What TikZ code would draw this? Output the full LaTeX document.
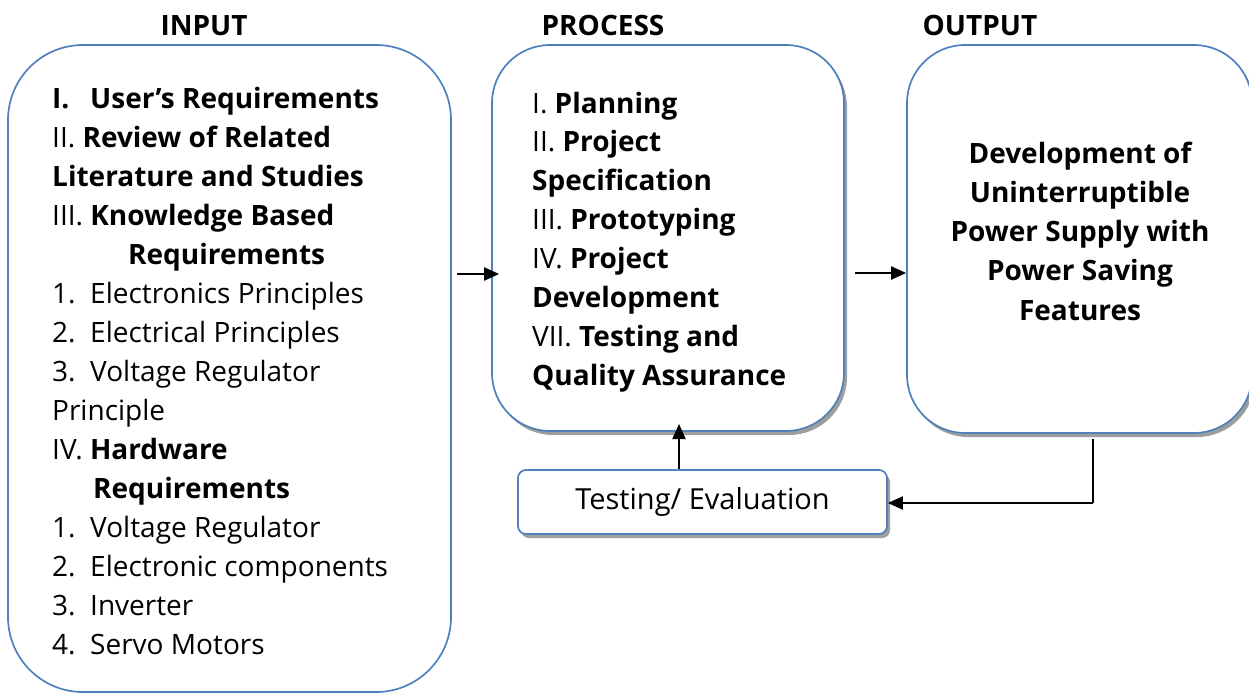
\documentclass[tikz,border=0pt]{standalone}
\usepackage{fontspec}
\setmainfont{Open Sans}
\usetikzlibrary{arrows.meta,shadows}
\definecolor{boxblue}{HTML}{4F81BD}
\tikzset{
 box/.style={draw=boxblue, line width=1.7pt, fill=white, inner sep=0pt},
 shad/.style={drop shadow={shadow xshift=3pt, shadow yshift=-4pt, fill=black!38, opacity=1}},
 arr/.style={line width=2pt, -{Triangle[length=15pt,width=13pt]}},
 body/.style={font=\fontsize{28}{39}\selectfont, inner sep=0pt, anchor=base west},
 ctr/.style={font=\bfseries\fontsize{28}{39}\selectfont, inner sep=0pt, anchor=base},
 head/.style={font=\bfseries\fontsize{28}{34}\selectfont, inner sep=0pt, anchor=base},
}
\begin{document}
\begin{tikzpicture}[x=1pt,y=-1pt]
\useasboundingbox (0,0) rectangle (1249,694);
\fill[white] (0,0) rectangle (1249,694);

% headings
\node[head] (hin) at (204,35) {INPUT};
\node[head] (hpr) at (603,35) {PROCESS};
\node[head] (hout) at (980,35) {OUTPUT};

% boxes
\node[box, rounded corners=75pt, minimum width=443pt, minimum height=647pt] (input) at (229.5,368.5) {};
\node[box, shad, rounded corners=58pt, minimum width=352pt, minimum height=386pt] (process) at (668,238) {};
\node[box, shad, rounded corners=58pt, minimum width=345pt, minimum height=388pt] (output) at (1079.5,239) {};
\node[box, shad, rounded corners=8pt, minimum width=369pt, minimum height=64pt,
      font=\fontsize{29}{34}\selectfont] (test) at (702.5,502) {Testing/ Evaluation};

% input text
\foreach \t [count=\i] in {
 {\bfseries\makebox[38pt][l]{I.}User’s Requirements},
 {II. \textbf{Review of Related}},
 {\textbf{Literature and Studies}},
 {III. \textbf{Knowledge Based}},
 {\hspace{76pt}\textbf{Requirements}},
 {\makebox[38pt][l]{1.}Electronics Principles},
 {\makebox[38pt][l]{2.}Electrical Principles},
 {\makebox[38pt][l]{3.}Voltage Regulator},
 {Principle},
 {IV. \textbf{Hardware}},
 {\hspace{41pt}\textbf{Requirements}},
 {\makebox[38pt][l]{1.}Voltage Regulator},
 {\makebox[38pt][l]{2.}Electronic components},
 {\makebox[38pt][l]{3.}Inverter},
 {\makebox[38pt][l]{4.}Servo Motors}}
 \node[body] (in\i) at (52,{108+39*(\i-1)}) {\t};

% process text
\foreach \t [count=\i] in {
 {I. \textbf{Planning}},
 {II. \textbf{Project}},
 {\textbf{Specification}},
 {III. \textbf{Prototyping}},
 {IV. \textbf{Project}},
 {\textbf{Development}},
 {VII. \textbf{Testing and}},
 {\textbf{Quality Assurance}}}
 \node[body] (pr\i) at (532,{113+38.9*(\i-1)}) {\t};

% output text
\foreach \t [count=\i] in {
 {Development of},
 {Uninterruptible},
 {Power Supply with},
 {Power Saving},
 {Features}}
 \node[ctr] (out\i) at (1080,{163+39.25*(\i-1)}) {\t};

% connectors
\coordinate (a1) at (457,274);
\draw[arr] (a1) -- ([xshift=8pt]a1 -| process.west);
\coordinate (a2) at (855,273);
\draw[arr] (a2) -- (a2 -| output.west);
\coordinate (a3) at (679,424);
\draw[arr] (a3 |- test.north) -- (a3);
\coordinate (a4) at (1093,439);
\coordinate (a5) at (1093,503);
\draw[line width=2pt] (a4) -- (a5);
\draw[arr] (a5) -- (a5 -| test.east);
\end{tikzpicture}
\end{document}
